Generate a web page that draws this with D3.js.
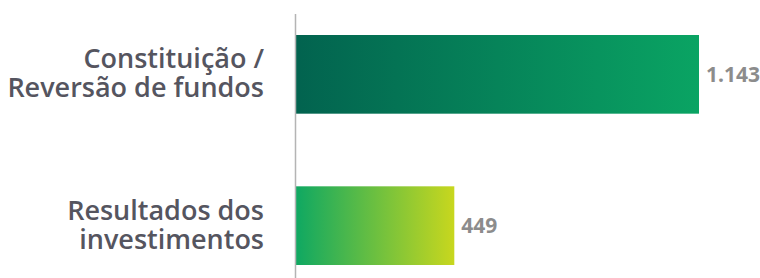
<!DOCTYPE html>
<html>
<head>
<meta charset="utf-8">
<script src="https://cdn.jsdelivr.net/npm/d3@7"></script>
<style>
  body { margin: 0; background: #fff; }
  svg { display: block; }
</style>
</head>
<body>
<svg id="chart" width="760" height="278"></svg>
<script>
// data
var categories = ["Constituição / Reversão de fundos", "Resultados dos investimentos"];
var labelLines = [["Constituição /", "Reversão de fundos"], ["Resultados dos", "investimentos"]];
var values = [1143, 449];
var valueLabels = ["1.143", "449"];
var gradients = [["#02634f", "#0aa463"], ["#0fa862", "#c8d71e"]];

var svg = d3.select("#chart");

var x = d3.scaleLinear().domain([0, 1143]).range([296, 699]);
var y = d3.scaleBand().domain(categories).range([35, 265]).paddingInner(0.48).paddingOuter(0);

var defs = svg.append("defs");
categories.forEach(function(c, i) {
  var g = defs.append("linearGradient")
    .attr("id", "grad" + i)
    .attr("x1", "0%").attr("x2", "100%")
    .attr("y1", "0%").attr("y2", "0%");
  g.append("stop").attr("offset", "0%").attr("stop-color", gradients[i][0]);
  g.append("stop").attr("offset", "100%").attr("stop-color", gradients[i][1]);
});

// bars
svg.selectAll("rect.bar")
  .data(values)
  .enter().append("rect")
  .attr("class", "bar")
  .attr("x", x(0))
  .attr("y", function(d, i) { return y(categories[i]); })
  .attr("width", function(d) { return x(d) - x(0); })
  .attr("height", y.bandwidth())
  .attr("fill", function(d, i) { return "url(#grad" + i + ")"; });

// axis line
svg.append("line")
  .attr("x1", 295.5).attr("x2", 295.5)
  .attr("y1", 14).attr("y2", 278)
  .attr("stroke", "#b4b4b4")
  .attr("stroke-width", 1.5);

// category labels, one text per line
categories.forEach(function(c, i) {
  var cy = y(c) + y.bandwidth() / 2;
  svg.selectAll("text.cat" + i)
    .data(labelLines[i])
    .enter().append("text")
    .attr("class", "cat" + i)
    .attr("text-anchor", "end")
    .attr("x", 264)
    .attr("y", function(line, j) { return cy - 6 + j * 29; })
    .attr("font-family", "Open Sans, sans-serif")
    .attr("font-weight", 600)
    .attr("font-size", 27)
    .attr("fill", "#55555f")
    .text(function(line) { return line; });
});

// value labels
svg.selectAll("text.val")
  .data(values)
  .enter().append("text")
  .attr("class", "val")
  .attr("x", function(d) { return x(d) + 7; })
  .attr("y", function(d, i) { return y(categories[i]) + y.bandwidth() / 2 + 7.5; })
  .attr("font-family", "Open Sans, sans-serif")
  .attr("font-weight", 700)
  .attr("font-size", 21)
  .attr("fill", "#8c8c8c")
  .text(function(d, i) { return valueLabels[i]; });
</script>
</body>
</html>
